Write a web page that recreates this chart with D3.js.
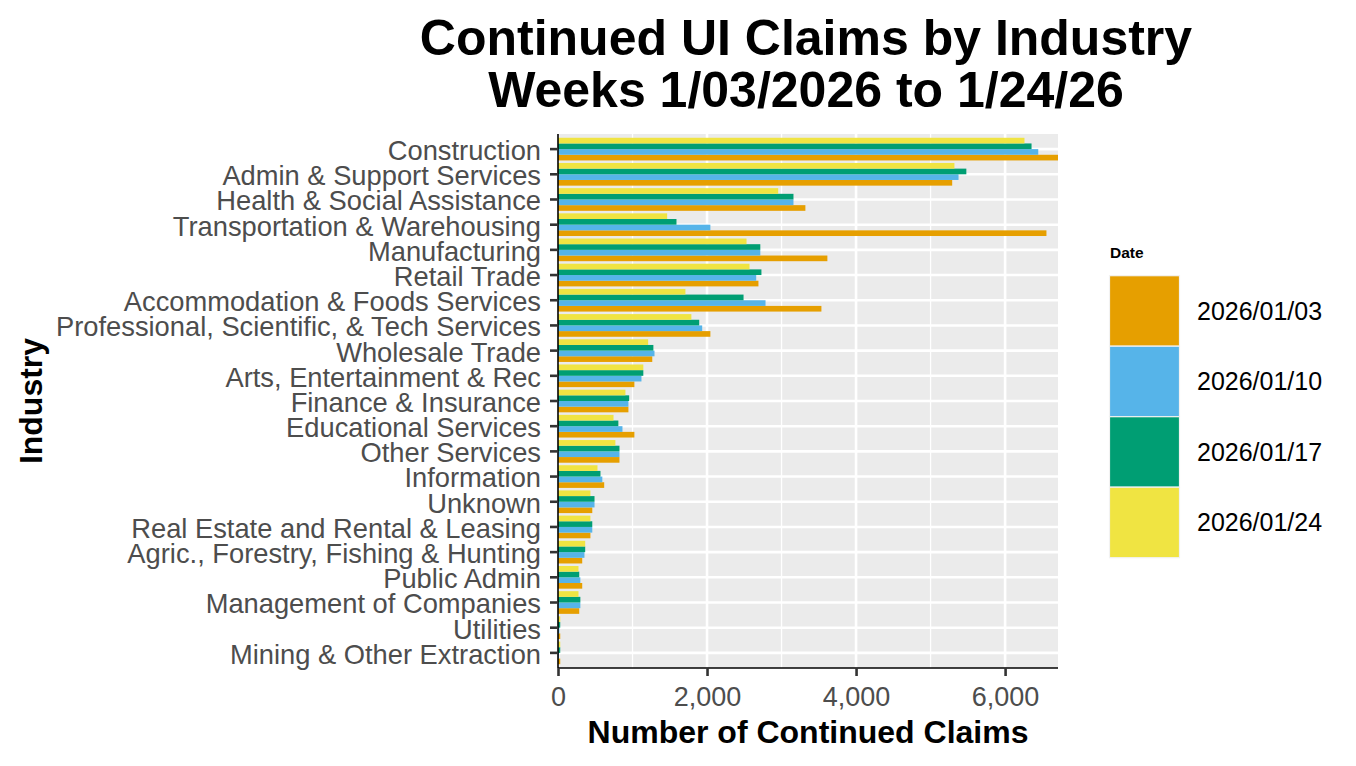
<!DOCTYPE html>
<html>
<head>
<meta charset="utf-8">
<script src="https://cdn.jsdelivr.net/npm/d3@7"></script>
<style>
  body { margin: 0; background: #fff; }
  text { font-family: "Liberation Sans", Arial, sans-serif; }
</style>
</head>
<body>
<svg id="chart" width="1356" height="766"></svg>
<script>
// industries, top to bottom
var industries = ["Construction", "Admin & Support Services", "Health & Social Assistance",
  "Transportation & Warehousing", "Manufacturing", "Retail Trade", "Accommodation & Foods Services",
  "Professional, Scientific, & Tech Services", "Wholesale Trade", "Arts, Entertainment & Rec",
  "Finance & Insurance", "Educational Services", "Other Services", "Information", "Unknown",
  "Real Estate and Rental & Leasing", "Agric., Forestry, Fishing & Hunting", "Public Admin",
  "Management of Companies", "Utilities", "Mining & Other Extraction"];

var dates = ["2026/01/03", "2026/01/10", "2026/01/17", "2026/01/24"];
var colors = ["#E69F00", "#56B4E9", "#009E73", "#F0E442"];

// claims per week, same order as industries
var wk0103 = [6710, 5290, 3320, 6555, 3615, 2690, 3535, 2045, 1265, 1025, 945, 1025, 825, 620, 460, 435, 325, 325, 285, 30, 30];
var wk0110 = [6445, 5375, 3160, 2045, 2715, 2660, 2785, 1935, 1295, 1120, 945, 865, 825, 595, 490, 460, 355, 300, 300, 18, 13];
var wk0117 = [6355, 5480, 3160, 1590, 2715, 2730, 2490, 1895, 1280, 1145, 955, 810, 825, 570, 490, 460, 365, 285, 300, 30, 30];
var wk0124 = [6260, 5320, 2955, 1465, 2530, 2570, 1710, 1790, 1210, 1145, 905, 745, 770, 530, 435, 435, 365, 275, 275, 30, 30];

var xTicks = [0, 2000, 4000, 6000];
var xMinor = [1000, 3000, 5000];

var series = [wk0103, wk0110, wk0117, wk0124];
var rows = [];
industries.forEach(function (ind, i) {
  dates.forEach(function (d, j) { rows.push({industry: ind, date: d, value: series[j][i]}); });
});

var svg = d3.select("#chart");
var pL = 558, pR = 1058, pT = 134, pB = 668;

var x = d3.scaleLinear().domain([0, d3.max(rows, d => d.value)]).range([pL, pR]);
var y = d3.scaleBand().domain(industries).range([pT, pB]).paddingInner(0).paddingOuter(0.1);
var groupW = y.bandwidth() * 0.9;
// yellow on top, orange at the bottom of each group
var yIn = d3.scaleBand().domain(dates.slice().reverse()).range([0, groupW]);
var color = d3.scaleOrdinal().domain(dates).range(colors);

// panel
svg.append("rect").attr("x", pL).attr("y", pT).attr("width", pR - pL).attr("height", pB - pT)
  .attr("fill", "#ebebeb");

svg.append("g").selectAll("line").data(xMinor).enter().append("line")
  .attr("x1", d => x(d)).attr("x2", d => x(d)).attr("y1", pT).attr("y2", pB)
  .attr("stroke", "#fff").attr("stroke-width", 1.3);
svg.append("g").selectAll("line").data(xTicks).enter().append("line")
  .attr("x1", d => x(d)).attr("x2", d => x(d)).attr("y1", pT).attr("y2", pB)
  .attr("stroke", "#fff").attr("stroke-width", 2.6);
svg.append("g").selectAll("line").data(industries).enter().append("line")
  .attr("x1", pL).attr("x2", pR)
  .attr("y1", d => y(d) + y.bandwidth() / 2).attr("y2", d => y(d) + y.bandwidth() / 2)
  .attr("stroke", "#fff").attr("stroke-width", 2.6);

// bars
svg.append("g").selectAll("rect").data(rows).enter().append("rect")
  .attr("x", x(0))
  .attr("y", d => y(d.industry) + (y.bandwidth() - groupW) / 2 + yIn(d.date))
  .attr("width", d => x(d.value) - x(0))
  .attr("height", yIn.bandwidth())
  .attr("fill", d => color(d.date));

// axes
var yAxis = svg.append("g").attr("transform", "translate(" + pL + ",0)")
  .call(d3.axisLeft(y).tickSize(8).tickPadding(9));
var xAxis = svg.append("g").attr("transform", "translate(0," + pB + ")")
  .call(d3.axisBottom(x).tickValues(xTicks).tickFormat(d3.format(",")).tickSize(8).tickPadding(10));

[yAxis, xAxis].forEach(function (g) {
  g.select(".domain").attr("stroke", "#000").attr("stroke-width", 1.6);
  g.selectAll(".tick line").attr("stroke", "#333").attr("stroke-width", 2.6);
  g.selectAll(".tick text").attr("fill", "#4d4d4d").style("font-size", "27px");
});
yAxis.select(".domain").attr("d", "M0," + pT + "V" + pB);
xAxis.select(".domain").attr("d", "M" + pL + ",0H" + pR);
yAxis.selectAll(".tick text").attr("dy", "0.4em").style("font-size", "27.3px");
xAxis.selectAll(".tick text").attr("dy", "0.75em");

// titles
var title = svg.append("text").attr("text-anchor", "middle").style("font-size", "50px").style("font-weight", "bold");
title.append("tspan").attr("x", 806).attr("y", 55).text("Continued UI Claims by Industry");
title.append("tspan").attr("x", 806).attr("y", 107).text("Weeks 1/03/2026 to 1/24/26");

svg.append("text").attr("x", (pL + pR) / 2).attr("y", 743).attr("text-anchor", "middle")
  .style("font-size", "32px").style("font-weight", "bold").text("Number of Continued Claims");

svg.append("text").attr("transform", "translate(42," + (pT + pB) / 2 + ") rotate(-90)")
  .attr("text-anchor", "middle").style("font-size", "32px").style("font-weight", "bold").text("Industry");

// legend
var lg = svg.append("g").attr("transform", "translate(1109.5,0)");
lg.append("text").attr("x", 0.5).attr("y", 258).style("font-size", "15.5px").style("font-weight", "bold").text("Date");
var keyH = 70.5;
var keys = lg.selectAll("g.key").data(dates).enter().append("g").attr("class", "key")
  .attr("transform", (d, i) => "translate(0," + (275.7 + i * keyH) + ")");
keys.append("rect").attr("width", 70).attr("height", keyH)
  .attr("fill", d => color(d)).attr("stroke", "#f2f2f2").attr("stroke-width", 1.2);
keys.append("text").attr("x", 87.5).attr("y", keyH / 2).attr("dy", "0.36em")
  .style("font-size", "25px").attr("fill", "#000").text(d => d);
</script>
</body>
</html>
